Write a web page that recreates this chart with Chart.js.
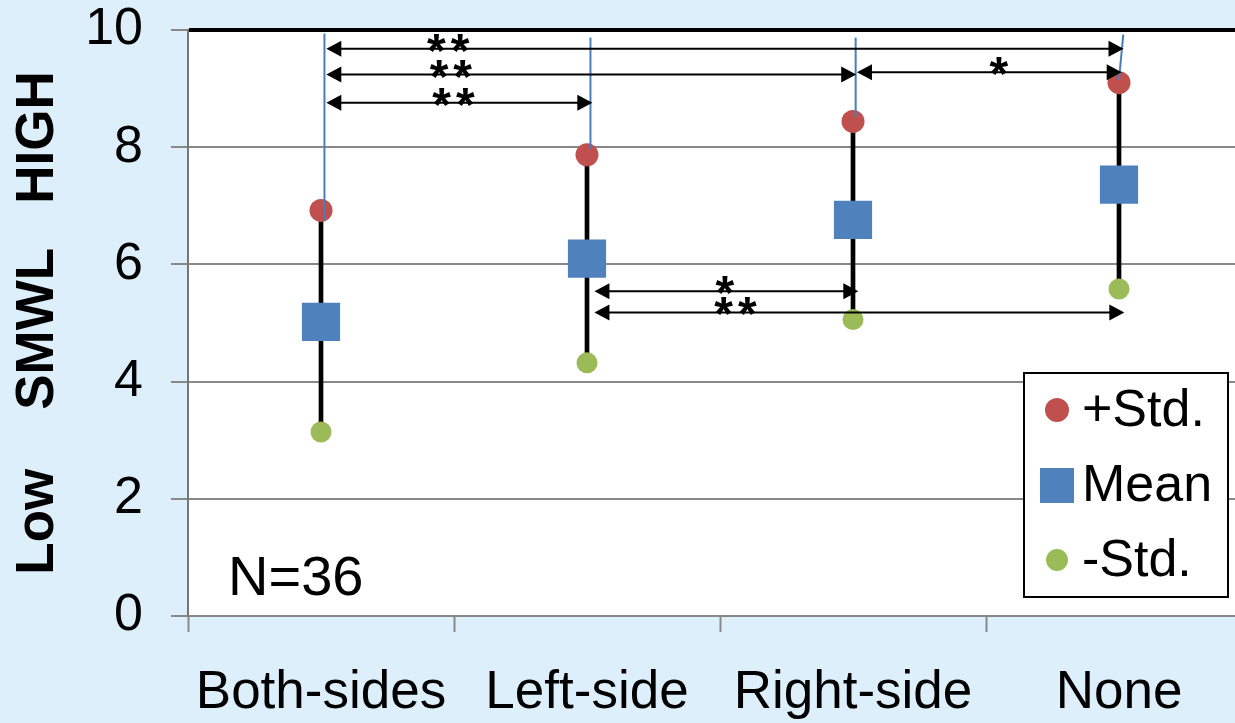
<!DOCTYPE html>
<html>
<head>
<meta charset="utf-8">
<script src="https://cdn.jsdelivr.net/npm/chart.js@4.4.0/dist/chart.umd.min.js"></script>
<style>
  html, body { margin: 0; padding: 0; overflow: hidden; background: #ddeffa; }
  #wrap { width: 1252px; height: 723px; }
</style>
</head>
<body>
<div id="wrap"><canvas id="chart" width="1252" height="723"></canvas></div>
<script>
// ---- data ----
const categories = ['Both-sides', 'Left-side', 'Right-side', 'None'];
const plusStd = [6.92, 7.87, 8.44, 9.10];
const means = [5.02, 6.10, 6.76, 7.36];
const minusStd = [3.14, 4.32, 5.06, 5.58];
const yTicks = [0, 2, 4, 6, 8, 10];
const seriesNames = ['+Std.', 'Mean', '-Std.'];
const sampleNote = 'N=36';
const yTitle = 'Low    SMWL   HIGH';

// significance arrows: from / to (category index), y value, label, label x
const sigFrom = [0.02, 0.02, 0.02, 2.015, 1.028, 1.028];
const sigTo = [3.017, 2.012, 1.02, 3.01, 2.02, 3.02];
const sigY = [9.68, 9.24, 8.76, 9.28, 5.54, 5.18];
const sigText = ['**', '**', '**', '*', '*', '**'];
const sigLabelX = [0.48, 0.49, 0.50, 2.55, 1.52, 1.56];

// thin blue guide lines above the +Std points
const guideX1 = [0.013, 1.013, 2.01, 3.0];
const guideY1 = [6.75, 7.97, 8.52, 9.15];
const guideX2 = [0.013, 1.013, 2.01, 3.016];
const guideY2 = [9.94, 9.87, 9.87, 9.92];

const FONT = '"Liberation Sans", Arial, sans-serif';
const RED = '#c0504d';
const BLUE = '#4f81bd';
const GREEN = '#9bbb59';

// light blue page behind, white plot area
const backdrop = {
  id: 'backdrop',
  beforeDraw(chart) {
    const { ctx, chartArea: a } = chart;
    ctx.save();
    ctx.fillStyle = '#ddeffa';
    ctx.fillRect(0, 0, chart.width, chart.height);
    ctx.fillStyle = '#fff';
    ctx.fillRect(a.left, a.top, a.right - a.left, a.bottom - a.top);
    ctx.restore();
  }
};

function arrowHead(ctx, x, y, dir) {
  ctx.beginPath();
  ctx.moveTo(x, y);
  ctx.lineTo(x - dir * 15, y - 8);
  ctx.lineTo(x - dir * 15, y + 8);
  ctx.closePath();
  ctx.fill();
}

// guide lines, arrows and stars
const marks = {
  id: 'marks',
  afterDatasetsDraw(chart) {
    const { ctx, scales: { x, y } } = chart;
    ctx.save();
    ctx.strokeStyle = '#4a7ebb';
    ctx.lineWidth = 2;
    guideX1.forEach((v, i) => {
      ctx.beginPath();
      ctx.moveTo(x.getPixelForValue(v), y.getPixelForValue(guideY1[i]));
      ctx.lineTo(x.getPixelForValue(guideX2[i]), y.getPixelForValue(guideY2[i]));
      ctx.stroke();
    });

    ctx.strokeStyle = '#000';
    ctx.fillStyle = '#000';
    ctx.font = `bold 48px ${FONT}`;
    ctx.letterSpacing = '5px';
    ctx.textAlign = 'center';
    ctx.textBaseline = 'alphabetic';
    sigFrom.forEach((v, i) => {
      const x1 = x.getPixelForValue(v);
      const x2 = x.getPixelForValue(sigTo[i]);
      const py = y.getPixelForValue(sigY[i]);
      ctx.beginPath();
      ctx.moveTo(x1 + 10, py);
      ctx.lineTo(x2 - 10, py);
      ctx.stroke();
      arrowHead(ctx, x1, py, -1);
      arrowHead(ctx, x2, py, 1);
      ctx.fillText(sigText[i], x.getPixelForValue(sigLabelX[i]) + 2, py + 18);
    });
    ctx.restore();
  },
  afterDraw(chart) {
    const { ctx, chartArea: a, data } = chart;
    ctx.save();
    // sample size note
    ctx.fillStyle = '#000';
    ctx.font = `56px ${FONT}`;
    ctx.textAlign = 'left';
    ctx.textBaseline = 'alphabetic';
    ctx.fillText(sampleNote, a.left + 40, a.bottom - 21);

    // boxed legend, lower right
    const w = 204, h = 224;
    const left = a.right - 24 - w, top = a.bottom - 19 - h;
    ctx.fillStyle = '#fff';
    ctx.fillRect(left, top, w, h);
    ctx.lineWidth = 2;
    ctx.strokeStyle = '#000';
    ctx.strokeRect(left, top, w, h);
    ctx.font = `52px ${FONT}`;
    ctx.textBaseline = 'middle';
    seriesNames.forEach((name, i) => {
      const ds = data.datasets[i];
      const cx = left + 33, cy = top + 37 + i * 75;
      ctx.fillStyle = ds.pointBackgroundColor;
      if (ds.pointStyle === 'rect') {
        ctx.fillRect(cx - 17, cy - 17, 34, 35);
      } else {
        ctx.beginPath();
        ctx.arc(cx, cy, i === 0 ? 12 : 11, 0, Math.PI * 2);
        ctx.fill();
      }
      ctx.fillStyle = '#000';
      ctx.fillText(name, left + 58, cy + 2);
    });
    ctx.restore();
  }
};

new Chart(document.getElementById('chart'), {
  data: {
    labels: categories,
    datasets: [
      { type: 'line', label: seriesNames[0], data: plusStd, showLine: false, pointStyle: 'circle',
        pointRadius: 11.5, pointBackgroundColor: RED, pointBorderWidth: 0, order: 1 },
      { type: 'line', label: seriesNames[1], data: means, showLine: false, pointStyle: 'rect',
        pointRadius: 27, pointBackgroundColor: BLUE, pointBorderWidth: 0, order: 1 },
      { type: 'line', label: seriesNames[2], data: minusStd, showLine: false, pointStyle: 'circle',
        pointRadius: 10.5, pointBackgroundColor: GREEN, pointBorderWidth: 0, order: 1 },
      // black whisker from -Std to +Std
      { type: 'bar', label: 'range', data: minusStd.map((v, i) => [v, plusStd[i]]),
        backgroundColor: '#000', barThickness: 4, order: 5 }
    ]
  },
  options: {
    responsive: false,
    animation: false,
    devicePixelRatio: 1,
    layout: { autoPadding: false, padding: { top: 30, left: 0, right: 0, bottom: 0 } },
    plugins: { legend: { display: false }, tooltip: { enabled: false } },
    scales: {
      x: {
        type: 'category',
        offset: true,
        grid: { offset: true, drawOnChartArea: false, tickLength: 16, tickColor: '#888', tickWidth: 2 },
        border: { color: '#888', width: 2 },
        ticks: { color: '#000', font: { family: FONT, size: 53 }, padding: 30, maxRotation: 0, autoSkip: false },
        afterFit(s) { s.height = 107; s.paddingLeft = 0; s.paddingRight = 0; }
      },
      y: {
        min: 0,
        max: 10,
        afterBuildTicks(s) { s.ticks = yTicks.map(v => ({ value: v })); },
        grid: {
          color: c => (c.tick && c.tick.value === 10 ? '#000' : '#888'),
          lineWidth: c => (c.tick && c.tick.value === 10 ? 4 : 2),
          tickColor: '#888',
          tickWidth: 2,
          tickLength: 17
        },
        border: { color: '#777', width: 2 },
        ticks: { color: '#000', font: { family: FONT, size: 52, lineHeight: 1 }, padding: 28 },
        title: {
          display: true,
          text: yTitle,
          color: '#000',
          font: { family: FONT, size: 53, weight: 'bold', lineHeight: 1.2 },
          padding: { top: 7, bottom: 0 }
        },
        afterFit(s) { s.width = 188; s.paddingTop = 0; s.paddingBottom = 0; }
      }
    }
  },
  plugins: [backdrop, marks]
});
</script>
</body>
</html>
